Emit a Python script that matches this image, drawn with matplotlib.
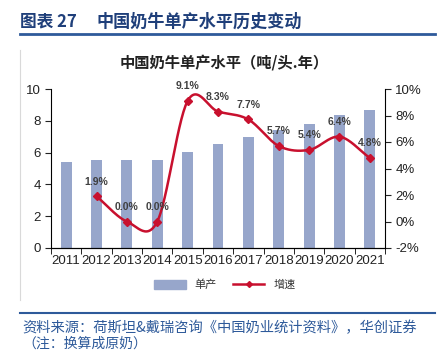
import matplotlib
matplotlib.use('Agg')
import matplotlib.pyplot as plt
import numpy as np
from matplotlib.lines import Line2D
from matplotlib.patches import Patch

plt.rcParams['font.family'] = ['Liberation Sans', 'Noto Sans CJK SC', 'DejaVu Sans']

# data
years = ['2011', '2012', '2013', '2014', '2015', '2016', '2017', '2018', '2019', '2020', '2021']
danchan = [5.4, 5.55, 5.55, 5.55, 6.05, 6.55, 7.0, 7.4, 7.8, 8.35, 8.7]
zengsu_years = ['2012', '2013', '2014', '2015', '2016', '2017', '2018', '2019', '2020', '2021']
zengsu = [1.9, 0.0, 0.0, 9.1, 8.3, 7.7, 5.7, 5.4, 6.4, 4.8]

bar_color = '#97a6cb'
line_color = '#c8102e'
blue = '#1f3f7a'


def smooth(x, y, n=30):
    # catmull-rom, like excel's smoothed line
    x = np.asarray(x, float)
    y = np.asarray(y, float)
    px = np.concatenate([[2 * x[0] - x[1]], x, [2 * x[-1] - x[-2]]])
    py = np.concatenate([[2 * y[0] - y[1]], y, [2 * y[-1] - y[-2]]])
    xs, ys = [], []
    t = np.linspace(0, 1, n)
    for i in range(1, len(px) - 2):
        for p, out in ((px, xs), (py, ys)):
            p0, p1, p2, p3 = p[i - 1], p[i], p[i + 1], p[i + 2]
            out.extend(0.5 * (2 * p1 + (-p0 + p2) * t + (2 * p0 - 5 * p1 + 4 * p2 - p3) * t ** 2
                              + (-p0 + 3 * p1 - 3 * p2 + p3) * t ** 3))
    return np.array(xs), np.array(ys)


fig = plt.figure(figsize=(4.46, 3.52), dpi=100)

# header
fig.text(20 / 446, 1 - 22 / 352, '图表 27', fontsize=12, fontweight='bold',
         color=blue, va='center', ha='left', family=['Noto Sans CJK SC'])
fig.text(97 / 446, 1 - 22 / 352, '中国奶牛单产水平历史变动', fontsize=12.3, fontweight='bold',
         color=blue, va='center', ha='left', family=['Noto Sans CJK SC'])
fig.add_artist(Line2D([20 / 446, 435 / 446], [1 - 34 / 352] * 2, color='#2e5a9a', lw=2))
fig.add_artist(Line2D([20 / 446] * 2, [1 - 50 / 352, 1 - 300 / 352], color='#d9d9d9', lw=0.8))
fig.text(224 / 446, 1 - 62 / 352, '中国奶牛单产水平（吨/头.年）', fontsize=11, fontweight='bold',
         color='#222222', va='center', ha='center', family=['Noto Sans CJK SC'])

ax = fig.add_axes([51 / 446, 1 - 248 / 352, 334 / 446, 159 / 352])
x = np.arange(len(years))
ax.bar(x, danchan, width=0.36, color=bar_color, zorder=2)
ax.set_xlim(-0.5, len(years) - 0.5)
ax.set_ylim(0, 10)
ax.set_yticks(range(0, 11, 2))
ax.set_xticks(x)
ax.set_xticklabels(years)
ax.set_xticks(np.arange(-0.5, len(years), 1), minor=True)
ax.tick_params(axis='x', which='major', length=0, labelsize=9.5, pad=5, colors='#222222')
ax.tick_params(axis='x', which='minor', length=4, direction='out')
ax.tick_params(axis='y', length=4, direction='out', labelsize=9.5, colors='#222222')
ax.spines['top'].set_visible(False)
ax.spines['right'].set_visible(False)

ax2 = ax.twinx()
lx = [years.index(y) for y in zengsu_years]
sx, sy = smooth(lx, zengsu)
ax2.plot(sx, sy, color=line_color, lw=1.8, zorder=3)
ax2.plot(lx, zengsu, ls='none', marker='D', ms=4, color=line_color, zorder=4)
for xi, v in zip(lx, zengsu):
    ax2.annotate(f'{v:.1f}%', (xi, v), xytext=(0, 7), textcoords='offset points', ha='center',
                 va='bottom', fontsize=7.5, fontweight='bold', color='#404040')
ax2.set_ylim(-2, 10)
ax2.set_yticks(range(-2, 11, 2))
ax2.set_yticklabels([f'{v}%' for v in range(-2, 11, 2)])
ax2.tick_params(axis='y', length=4, direction='out', labelsize=9.5, colors='#222222')
ax2.spines['top'].set_visible(False)
ax2.spines['left'].set_visible(False)

handles = [Patch(color=bar_color), Line2D([], [], color=line_color, lw=1.8, marker='D', ms=3)]
fig.legend(handles, ['单产', '增速'], loc='center', bbox_to_anchor=(225 / 446, 1 - 285 / 352), ncol=2,
           frameon=False, prop={'family': ['Noto Sans CJK SC'], 'size': 8},
           handlelength=2.8, handleheight=0.8, columnspacing=1.5, labelcolor='#333333')

# source
fig.add_artist(Line2D([20 / 446, 435 / 446], [1 - 313 / 352] * 2, color='#2e5a9a', lw=1.5))
fig.text(22 / 446, 1 - 328 / 352, '资料来源：荷斯坦&戴瑞咨询《中国奶业统计资料》，华创证券', fontsize=10.3,
         color='#2e5a9a', va='center', ha='left', style='italic', family=['Noto Sans CJK SC'])
fig.text(22 / 446, 1 - 344 / 352, '（注：换算成原奶）', fontsize=10,
         color='#2e5a9a', va='center', ha='left', style='italic', family=['Noto Sans CJK SC'])

fig.savefig('out.png', dpi=100)
